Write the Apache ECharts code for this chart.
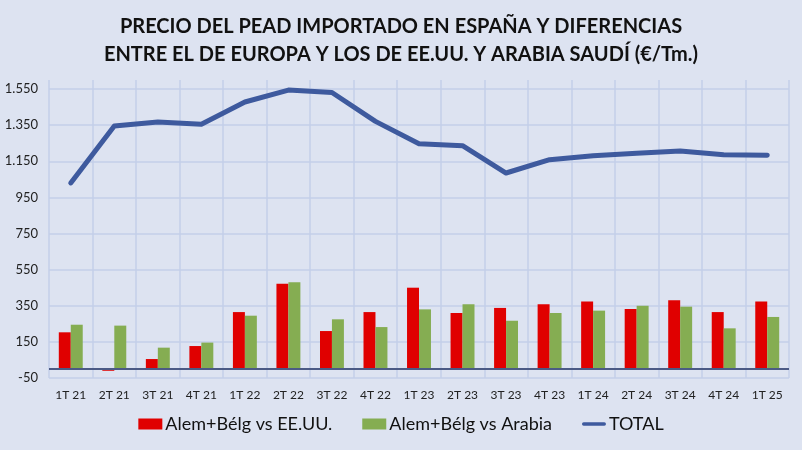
<!DOCTYPE html>
<html>
<head>
<meta charset="utf-8">
<script src="https://cdn.jsdelivr.net/npm/echarts@6/dist/echarts.min.js"></script>
<style>
  html, body { margin: 0; padding: 0; background: #dde3f1; }
  #graph { width: 802px; height: 450px; }
</style>
</head>
<body>
<div id="graph"></div>
<script>
var categories = ['1T 21', '2T 21', '3T 21', '4T 21', '1T 22', '2T 22', '3T 22', '4T 22', '1T 23',
    '2T 23', '3T 23', '4T 23', '1T 24', '2T 24', '3T 24', '4T 24', '1T 25'];
var vsEEUU = [203, -10, 55, 127, 315, 472, 210, 315, 450, 310, 338, 358, 373, 332, 380, 315, 373];
var vsArabia = [245, 240, 118, 146, 295, 480, 275, 232, 330, 358, 267, 310, 323, 350, 345, 225, 288];
var total = [1030, 1345, 1367, 1355, 1478, 1544, 1531, 1371, 1247, 1236, 1085, 1159, 1181, 1194, 1207, 1186, 1184];

var FONT = 'Lato';
var gridColor = '#c3cfe9';

function fmtNum(v) {
    var s = String(Math.abs(v));
    if (s.length > 3) s = s.slice(0, s.length - 3) + '.' + s.slice(-3);
    return (v < 0 ? '-' : '') + s;
}

var option = {
    backgroundColor: '#dde3f1',
    textStyle: {fontFamily: FONT},
    title: {
        text: 'PRECIO DEL PEAD IMPORTADO EN ESPAÑA Y DIFERENCIAS\nENTRE EL DE EUROPA Y LOS DE EE.UU. Y ARABIA SAUDÍ (€/Tm.)',
        left: 'center',
        top: 8,
        textStyle: {fontFamily: FONT, fontSize: 20, fontWeight: 'bold', color: '#111', lineHeight: 28}
    },
    legend: {
        bottom: 12,
        left: 'center',
        itemWidth: 24,
        itemHeight: 11,
        itemGap: 30,
        textStyle: {fontFamily: FONT, fontSize: 18, color: '#111', padding: [0, 0, 0, -2]},
        data: [
            {name: 'Alem+Bélg vs EE.UU.', icon: 'rect'},
            {name: 'Alem+Bélg vs Arabia', icon: 'rect'},
            {name: 'TOTAL', icon: 'path://M2,0 L26,0 A2,2 0 0 1 26,4 L2,4 A2,2 0 0 1 2,0 Z'}
        ]
    },
    grid: {left: 49, right: 13, top: 80, bottom: 72},
    xAxis: {
        type: 'category',
        data: categories,
        axisLine: {show: false},
        axisTick: {show: false},
        axisLabel: {fontFamily: FONT, fontSize: 12, color: '#222', margin: 11},
        splitLine: {show: true, lineStyle: {color: gridColor, width: 1.5}}
    },
    yAxis: {
        type: 'value',
        min: -50,
        max: 1600,
        interval: 200,
        axisLine: {show: false},
        axisTick: {show: false},
        axisLabel: {
            fontFamily: FONT, fontSize: 13, color: '#222', margin: 11,
            formatter: function(v) { return v === 1600 ? '' : fmtNum(v); }
        },
        splitLine: {
            lineStyle: {
                width: 1.5,
                color: [gridColor, gridColor, gridColor, gridColor, gridColor, gridColor,
                    gridColor, gridColor, gridColor, 'rgba(0,0,0,0)']
            }
        }
    },
    series: [{
        name: 'Alem+Bélg vs EE.UU.',
        type: 'bar',
        data: vsEEUU,
        barGap: 0,
        barCategoryGap: '45%',
        itemStyle: {color: '#e00000'},
        markLine: {
            silent: true,
            symbol: 'none',
            label: {show: false},
            lineStyle: {color: '#4b5a85', type: 'solid', width: 2},
            data: [{yAxis: 0}]
        }
    }, {
        name: 'Alem+Bélg vs Arabia',
        type: 'bar',
        data: vsArabia,
        itemStyle: {color: '#85ad52'}
    }, {
        name: 'TOTAL',
        type: 'line',
        data: total,
        symbol: 'none',
        lineStyle: {color: '#3e5a9e', width: 5, cap: 'round', join: 'round'},
        itemStyle: {color: '#3e5a9e'},
        z: 5
    }]
};

var chart = echarts.init(document.getElementById('graph'));
chart.setOption(option);
</script>
</body>
</html>
